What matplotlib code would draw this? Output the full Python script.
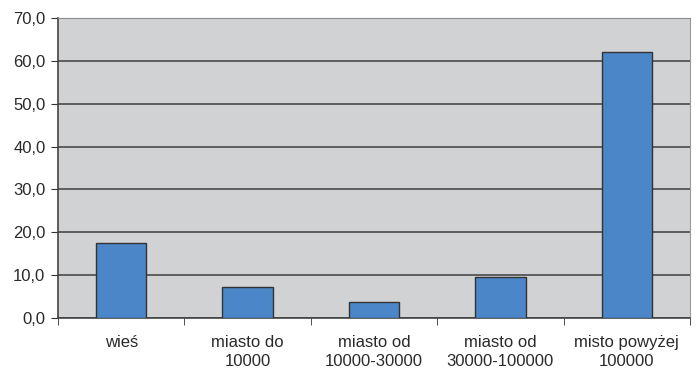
import matplotlib
matplotlib.use("Agg")
import matplotlib.pyplot as plt
from matplotlib.ticker import FixedLocator, FuncFormatter

plt.rcParams['font.family'] = ['Liberation Sans', 'DejaVu Sans']

# Share of respondents by place of residence (%)
categories = ["wieś", "miasto do\n10000", "miasto od\n10000-30000",
              "miasto od\n30000-100000", "misto powyżej\n100000"]
values = [17.4, 7.2, 3.7, 9.6, 62.1]
y_ticks = [0, 10, 20, 30, 40, 50, 60, 70]

fig = plt.figure(figsize=(6.96, 3.69), dpi=100)
ax = fig.add_axes([58 / 696, 51 / 369, 632 / 696, 300 / 369])
ax.set_facecolor("#d1d2d4")

x = range(len(categories))
ax.bar(x, values, width=0.4, color="#4a86c8", edgecolor="#333333", linewidth=1.0, zorder=3)

ax.set_xlim(-0.5, len(categories) - 0.5)
ax.set_ylim(0, 70)
ax.set_yticks(y_ticks)
ax.yaxis.set_major_formatter(FuncFormatter(lambda v, p: f"{v:.1f}".replace(".", ",")))
ax.yaxis.grid(True, color="#4a4a4a", linewidth=1.2, zorder=1)

# labels centred under bars, ticks at category boundaries
ax.set_xticks(list(x))
ax.set_xticklabels(categories, fontsize=12, color="#2a2a2a", linespacing=1.4, va="top")
ax.tick_params(axis="x", length=0, pad=12)
ax.xaxis.set_minor_locator(FixedLocator([i + 0.5 for i in range(-1, len(categories))]))
ax.tick_params(axis="x", which="minor", length=5, color="#333333", direction="out")
ax.tick_params(axis="y", length=5, color="#333333", labelsize=12, labelcolor="#2a2a2a", pad=4)

for side in ["left", "bottom"]:
    ax.spines[side].set_color("#444444")
    ax.spines[side].set_linewidth(1.2)
ax.spines["top"].set_color("#8c8c8c")
ax.spines["right"].set_color("#9a9a9a")

fig.savefig("out.png", dpi=100)
